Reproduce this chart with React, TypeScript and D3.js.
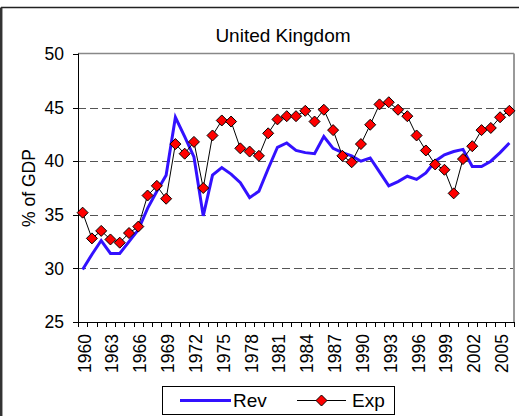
import React from "react";
import * as d3 from "d3";

const years: number[] = [
  1960, 1961, 1962, 1963, 1964, 1965, 1966, 1967, 1968, 1969,
  1970, 1971, 1972, 1973, 1974, 1975, 1976, 1977, 1978, 1979,
  1980, 1981, 1982, 1983, 1984, 1985, 1986, 1987, 1988, 1989,
  1990, 1991, 1992, 1993, 1994, 1995, 1996, 1997, 1998, 1999,
  2000, 2001, 2002, 2003, 2004, 2005, 2006,
];

const rev: number[] = [
  29.9, 31.3, 32.6, 31.4, 31.4, 32.5, 33.6, 35.6, 37.2, 38.7,
  44.1, 42.3, 40.4, 34.9, 38.7, 39.4, 38.8, 38.0, 36.6, 37.2,
  39.3, 41.3, 41.7, 41.0, 40.8, 40.7, 42.3, 41.2, 40.8, 40.5,
  40.0, 40.3, 39.0, 37.7, 38.1, 38.6, 38.3, 38.9, 40.0, 40.6,
  40.9, 41.1, 39.5, 39.5, 40.0, 40.8, 41.7,
];

const exp: number[] = [
  35.2, 32.8, 33.5, 32.7, 32.4, 33.3, 33.9, 36.8, 37.7, 36.5,
  41.6, 40.7, 41.8, 37.5, 42.4, 43.8, 43.7, 41.2, 40.9, 40.5,
  42.6, 43.9, 44.2, 44.2, 44.7, 43.7, 44.8, 42.9, 40.5, 39.9,
  41.6, 43.4, 45.3, 45.5, 44.8, 44.2, 42.4, 41.0, 39.7, 39.2,
  37.0, 40.2, 41.4, 42.9, 43.1, 44.1, 44.7,
];

const yTicks: number[] = [25, 30, 35, 40, 45, 50];
const gridValues: number[] = [30, 35, 40, 45];
const xLabelYears: number[] = [1960, 1963, 1966, 1969, 1972, 1975, 1978, 1981, 1984, 1987, 1990, 1993, 1996, 1999, 2002, 2005];

const title = "United Kingdom";
const yTitle = "% of GDP";
const seriesNames = ["Rev", "Exp"];

const W = 519;
const H = 416;
const FONT = "'Liberation Sans', Arial, sans-serif";
const BLUE = "#3311ff";

export default function App() {
  const left = 78, right = 514, top = 54, bottom = 322;
  const x = d3.scaleBand<number>().domain(years).range([left, right]).padding(0);
  const bw = x.bandwidth();
  const cx = (yr: number) => (x(yr) as number) + bw / 2;
  const y = d3.scaleLinear().domain([25, 50]).range([bottom, top]);

  const line = d3
    .line<number>()
    .x((_, i) => cx(years[i]))
    .y((d) => y(d));

  const diamond = (px: number, py: number, r: number) =>
    `M${px},${py - r}L${px + r},${py}L${px},${py + r}L${px - r},${py}Z`;

  const boundaries = d3.range(years.length + 1).map((i) => left + i * bw);

  return (
    <svg
      width={W}
      height={H}
      style={{ position: "fixed", left: 0, top: 0, background: "#fff" }}
      fontFamily={FONT}
    >
      <rect x={0} y={0} width={W} height={H} fill="#fff" />
      {/* outer frame */}
      <line x1={1} y1={7.5} x2={W} y2={7.5} stroke="#222" strokeWidth={1.5} />
      <line x1={1.2} y1={7.5} x2={1.2} y2={H} stroke="#333" strokeWidth={2.5} />

      {/* title */}
      <text x={283} y={42} textAnchor="middle" fontSize={19} fill="#000">
        {title}
      </text>

      {/* gridlines */}
      {gridValues.map((v) => (
        <line
          key={v}
          x1={left}
          x2={right}
          y1={Math.round(y(v)) + 0.5}
          y2={Math.round(y(v)) + 0.5}
          stroke="#555"
          strokeWidth={1}
          strokeDasharray="8,4"
        />
      ))}

      {/* plot border top/right */}
      <line x1={left} y1={top - 0.5} x2={right} y2={top - 0.5} stroke="#888" strokeWidth={1.5} />
      <line x1={right} y1={top - 0.5} x2={right} y2={bottom} stroke="#999" strokeWidth={2} />

      {/* y axis */}
      <line x1={left + 0.5} y1={top - 0.5} x2={left + 0.5} y2={bottom + 0.5} stroke="#000" strokeWidth={1} />
      {yTicks.map((v) => (
        <g key={v}>
          <line x1={left - 5} x2={left} y1={Math.round(y(v)) + 0.5} y2={Math.round(y(v)) + 0.5} stroke="#000" />
          <text x={64} y={y(v)} dy="0.35em" textAnchor="end" fontSize={17.5} fill="#000">
            {v}
          </text>
        </g>
      ))}
      <text
        transform={`translate(35,${(top + bottom) / 2}) rotate(-90)`}
        textAnchor="middle"
        fontSize={17.5}
        fill="#000"
      >
        {yTitle}
      </text>

      {/* x axis */}
      <line x1={left} y1={bottom + 0.5} x2={right} y2={bottom + 0.5} stroke="#000" strokeWidth={1} />
      {boundaries.map((bx, i) => (
        <line key={i} x1={Math.round(bx) + 0.5} x2={Math.round(bx) + 0.5} y1={bottom} y2={bottom + 5} stroke="#000" />
      ))}
      {xLabelYears.map((yr) => (
        <text
          key={yr}
          transform={`translate(${cx(yr) + 8},${334}) rotate(-90)`}
          textAnchor="end"
          fontSize={17.5}
          fill="#000"
        >
          {yr}
        </text>
      ))}

      {/* Rev */}
      <path d={line(rev) || ""} fill="none" stroke={BLUE} strokeWidth={3} strokeLinejoin="miter" />
      {/* Exp */}
      <path d={line(exp) || ""} fill="none" stroke="#000" strokeWidth={1} />
      {exp.map((v, i) => (
        <path key={i} d={diamond(cx(years[i]), y(v), 5.5)} fill="#ff0000" stroke="#000" strokeWidth={1} />
      ))}

      {/* legend */}
      <rect x={162.5} y={386.5} width={232} height={28} fill="#fff" stroke="#000" strokeWidth={1} />
      <line x1={180} x2={231} y1={400.5} y2={400.5} stroke={BLUE} strokeWidth={3} />
      <text x={233} y={407} fontSize={19} fill="#000">
        {seriesNames[0]}
      </text>
      <line x1={297} x2={346} y1={400.5} y2={400.5} stroke="#000" strokeWidth={1} />
      <path d={diamond(321.5, 400.5, 5.5)} fill="#ff0000" stroke="#000" strokeWidth={1} />
      <text x={352} y={407} fontSize={19} fill="#000">
        {seriesNames[1]}
      </text>
    </svg>
  );
}
